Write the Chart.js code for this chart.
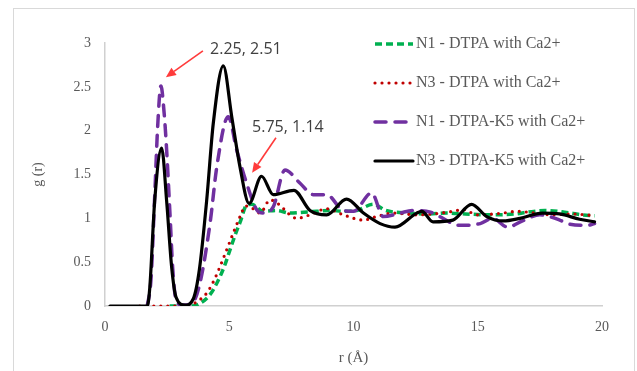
<!DOCTYPE html>
<html>
<head>
<meta charset="utf-8">
<script src="https://cdn.jsdelivr.net/npm/chart.js@4/dist/chart.umd.min.js"></script>
<style>
html,body{margin:0;padding:0;background:#fff;}
#wrap{width:637px;height:371px;}
</style>
</head>
<body>
<div id="wrap"><canvas id="c" width="637" height="371"></canvas></div>
<script>
// ---- data ----
const seriesLabels = [
  "N1 - DTPA with Ca2+",
  "N3 - DTPA with Ca2+",
  "N1 - DTPA-K5 with Ca2+",
  "N3 - DTPA-K5 with Ca2+"
];

const rN1 = [2.6, 3.5, 3.82, 4.2, 4.5, 4.8, 5.03, 5.25, 5.43, 5.7, 5.9, 6.37, 6.9, 7.44, 8.0, 8.52, 9.05, 9.6, 10.13, 10.8, 11.3, 12.27, 13.0, 13.75, 14.5, 15.5, 16.5, 17.0, 17.7, 18.5, 19.2, 19.7];
const gN1 = [0, 0, 0.03, 0.12, 0.26, 0.45, 0.64, 0.82, 0.95, 1.15, 1.16, 1.08, 1.09, 1.06, 1.07, 1.08, 1.09, 1.08, 1.09, 1.16, 1.09, 1.06, 1.05, 1.06, 1.05, 1.04, 1.05, 1.07, 1.09, 1.07, 1.04, 1.03];

const rN3 = [1.4, 3.3, 3.7, 4.1, 4.4, 4.7, 4.95, 5.2, 5.45, 5.65, 5.85, 6.24, 6.64, 7.04, 7.4, 7.71, 8.25, 8.92, 9.59, 10.4, 10.93, 11.6, 12.54, 13.2, 14.0, 14.4, 15.0, 16.0, 16.6, 17.3, 18.0, 18.8, 19.7];
const gN3 = [0, 0, 0.05, 0.15, 0.3, 0.5, 0.68, 0.86, 1.03, 1.14, 1.13, 1.06, 1.21, 1.15, 1.05, 1.0, 1.04, 1.11, 1.04, 0.98, 1.02, 1.06, 1.04, 1.05, 1.08, 1.1, 1.04, 1.06, 1.08, 1.06, 1.04, 1.05, 1.03];

const rN1K5 = [1.7, 1.85, 2.0, 2.12, 2.25, 2.38, 2.48, 2.62, 2.72, 2.85, 3.1, 3.5, 3.82, 4.23, 4.5, 4.96, 5.3, 5.7, 6.1, 6.37, 6.77, 7.24, 7.85, 8.38, 8.92, 9.59, 10.0, 10.73, 11.2, 11.87, 12.4, 13.1, 13.6, 14.2, 15.1, 15.6, 16.2, 16.8, 17.5, 18.3, 18.6, 19.4, 19.7];
const gN1K5 = [0, 0.3, 1.25, 2.05, 2.51, 2.2, 1.78, 1.02, 0.45, 0.08, 0.01, 0.03, 0.26, 0.95, 1.59, 2.16, 1.78, 1.4, 1.1, 1.06, 1.13, 1.55, 1.4, 1.27, 1.27, 1.09, 1.08, 1.29, 1.02, 1.06, 1.09, 1.07, 1.0, 0.92, 0.94, 1.0, 0.9, 0.97, 1.04, 0.98, 0.94, 0.92, 0.94];

const rN3K5 = [0.2, 1.7, 1.8, 2.0, 2.28, 2.48, 2.68, 2.86, 3.22, 3.55, 3.8, 4.09, 4.36, 4.76, 5.1, 5.43, 5.8, 6.3, 6.77, 7.6, 8.25, 8.92, 9.72, 10.4, 11.07, 11.67, 12.54, 12.75, 13.2, 14.0, 14.75, 15.36, 16.03, 16.7, 17.6, 18.3, 19.1, 19.7];
const gN3K5 = [0, 0, 0.2, 1.2, 1.8, 1.2, 0.45, 0.1, 0.01, 0.08, 0.42, 1.2, 2.09, 2.74, 2.16, 1.59, 1.17, 1.48, 1.27, 1.32, 1.09, 1.04, 1.22, 1.06, 0.94, 0.9, 1.06, 1.08, 0.96, 0.98, 1.16, 1.02, 0.97, 1.0, 1.06, 1.05, 0.99, 0.96];

const xTicks = [0, 5, 10, 15, 20];
const yTicks = [0, 0.5, 1, 1.5, 2, 2.5, 3];
const xTickLabels = ["0", "5", "10", "15", "20"];
const yTickLabels = ["0", "0.5", "1", "1.5", "2", "2.5", "3"];

const annotTexts = ["2.25, 2.51", "5.75, 1.14"];
// annotation geometry in data units: text centre, arrow tail, arrow tip
const annotGeom = [
  {text: [5.67, 2.93], tail: [3.94, 2.91], tip: [2.45, 2.61]},
  {text: [7.36, 2.04], tail: [6.88, 1.92], tip: [5.92, 1.52]}
];

function pts(rs, gs) { return rs.map((r, i) => ({x: r, y: gs[i]})); }

const serif = "'Liberation Serif', 'DejaVu Serif', serif";

const datasets = [
  {label: seriesLabels[0], data: pts(rN1, gN1), borderColor: '#00B050', borderWidth: 3.5, borderDash: [7, 4], borderCapStyle: 'butt', order: 4},
  {label: seriesLabels[1], data: pts(rN3, gN3), borderColor: '#C00000', borderWidth: 3.2, borderDash: [0, 7], borderCapStyle: 'round', order: 3},
  {label: seriesLabels[2], data: pts(rN1K5, gN1K5), borderColor: '#7030A0', borderWidth: 3.5, borderDash: [11, 9], borderCapStyle: 'round', order: 2},
  {label: seriesLabels[3], data: pts(rN3K5, gN3K5), borderColor: '#000000', borderWidth: 3.2, borderDash: [], borderCapStyle: 'round', order: 1}
].map(d => Object.assign(d, {pointRadius: 0, fill: false, cubicInterpolationMode: 'monotone', borderJoinStyle: 'round'}));

const frame = {
  id: 'frame',
  beforeDraw(chart) {
    const ctx = chart.ctx;
    ctx.save();
    ctx.fillStyle = '#fff';
    ctx.fillRect(0, 0, chart.width, chart.height);
    ctx.strokeStyle = '#d9d9d9';
    ctx.lineWidth = 1;
    ctx.strokeRect(13.5, 8.5, 621, 380);
    ctx.restore();
  }
};

const legendAndNotes = {
  id: 'legendAndNotes',
  afterDraw(chart) {
    const ctx = chart.ctx;
    const ca = chart.chartArea;
    const xs = chart.scales.x, ys = chart.scales.y;
    ctx.save();
    // legend
    const lx = ca.right - 227, ly = ca.top + 1, step = 39;
    chart.data.datasets.forEach((ds, i) => {
      const y = ly + i * step;
      ctx.beginPath();
      ctx.strokeStyle = ds.borderColor;
      ctx.lineWidth = ds.borderWidth;
      ctx.lineCap = ds.borderCapStyle;
      ctx.setLineDash(ds.borderDash || []);
      ctx.moveTo(lx, y);
      ctx.lineTo(lx + 38, y);
      ctx.stroke();
      ctx.setLineDash([]);
      ctx.fillStyle = '#595959';
      ctx.font = "16px " + serif;
      ctx.textBaseline = 'middle';
      ctx.textAlign = 'left';
      ctx.fillText(ds.label, lx + 41, y);
    });
    // annotations
    annotGeom.forEach((a, i) => {
      const tx = xs.getPixelForValue(a.text[0]), ty = ys.getPixelForValue(a.text[1]);
      ctx.fillStyle = '#404040';
      ctx.font = "16px 'Open Sans', 'DejaVu Sans', sans-serif";
      ctx.textAlign = 'center';
      ctx.textBaseline = 'middle';
      ctx.fillText(annotTexts[i], tx, ty);
      const x0 = xs.getPixelForValue(a.tail[0]), y0 = ys.getPixelForValue(a.tail[1]);
      const x1 = xs.getPixelForValue(a.tip[0]), y1 = ys.getPixelForValue(a.tip[1]);
      const ang = Math.atan2(y1 - y0, x1 - x0);
      const hl = 10, hw = 4.5;
      const bx = x1 - hl * Math.cos(ang), by = y1 - hl * Math.sin(ang);
      ctx.strokeStyle = '#FF3B3B';
      ctx.fillStyle = '#FF3B3B';
      ctx.lineWidth = 1.6;
      ctx.lineCap = 'butt';
      ctx.beginPath();
      ctx.moveTo(x0, y0);
      ctx.lineTo(bx, by);
      ctx.stroke();
      ctx.beginPath();
      ctx.moveTo(x1, y1);
      ctx.lineTo(bx + hw * Math.sin(ang), by - hw * Math.cos(ang));
      ctx.lineTo(bx - hw * Math.sin(ang), by + hw * Math.cos(ang));
      ctx.closePath();
      ctx.fill();
    });
    ctx.restore();
  }
};

new Chart(document.getElementById('c'), {
  type: 'line',
  data: {datasets},
  plugins: [frame, legendAndNotes],
  options: {
    responsive: false,
    animation: false,
    events: [],
    layout: {padding: {top: 43, right: 35, bottom: 0, left: 0}},
    plugins: {legend: {display: false}, tooltip: {enabled: false}},
    scales: {
      x: {
        type: 'linear',
        min: 0, max: 20,
        afterFit(s) { s.height = 65; },
        afterBuildTicks(s) { s.ticks = xTicks.map(v => ({value: v})); },
        grid: {display: false, drawTicks: false},
        border: {display: true, color: '#d0d0d0', width: 1.5},
        ticks: {padding: 13, color: '#595959', font: {family: serif, size: 14}, maxRotation: 0,
          callback: (v) => { const i = xTicks.indexOf(v); return i >= 0 ? xTickLabels[i] : ''; }},
        title: {display: true, text: 'r (Å)', color: '#595959', font: {family: serif, size: 15}, padding: {top: 0, bottom: 4}}
      },
      y: {
        type: 'linear',
        min: 0, max: 3,
        afterFit(s) { s.width = 105; },
        afterBuildTicks(s) { s.ticks = yTicks.map(v => ({value: v})); },
        grid: {display: false, drawTicks: false},
        border: {display: true, color: '#d0d0d0', width: 1.5},
        ticks: {padding: 14, color: '#595959', font: {family: serif, size: 14},
          callback: (v) => { const i = yTicks.indexOf(v); return i >= 0 ? yTickLabels[i] : ''; }},
        title: {display: true, text: 'g (r)', color: '#595959', font: {family: serif, size: 14}, padding: {top: 30, bottom: 0}}
      }
    }
  }
});
</script>
</body>
</html>
